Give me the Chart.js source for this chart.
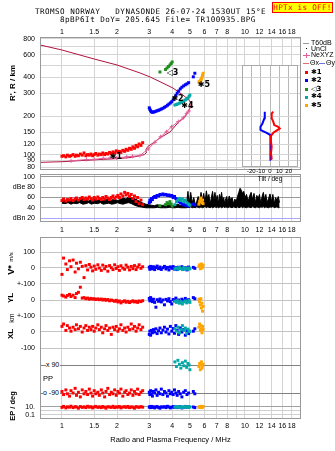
<!DOCTYPE html>
<html><head><meta charset="utf-8">
<script src="https://cdn.jsdelivr.net/npm/chart.js@4.4.1/dist/chart.umd.min.js"></script>
<style>
html,body{margin:0;padding:0;background:#fff;}
body{width:335px;height:451px;position:relative;overflow:hidden;font-family:"Liberation Sans",Arial,sans-serif;color:#000;}
canvas{position:absolute;display:block;}
.t{position:absolute;white-space:pre;line-height:1;}
.mono{font-family:"DejaVu Sans Mono","Liberation Mono",monospace;font-size:7.6px;letter-spacing:0.45px;}
.rot{transform:translate(-50%,-50%) rotate(-90deg);}
.lg{position:absolute;font-size:7px;line-height:1;white-space:pre;}
.sw{position:absolute;}
.sym{font-family:"DejaVu Sans",sans-serif;font-weight:bold;}
</style></head><body>
<canvas id="cMain" width="335" height="172" style="left:0;top:0"></canvas>
<canvas id="cAmp" width="335" height="64" style="left:0;top:172px"></canvas>
<canvas id="cLow" width="335" height="215" style="left:0;top:236px"></canvas>
<canvas id="cTilt" width="68" height="124" style="left:236px;top:60px"></canvas>

<div class="t mono" style="left:35px;top:8px">TROMSO NORWAY   DYNASONDE 26-07-24 1530UT 15°E</div>
<div class="t mono" style="left:60px;top:16px">8pBP6It DoY= 205.645 File= TR100935.BPG</div>
<div class="t mono" style="left:272px;top:2px;width:59px;height:9px;background:#ffff00;border:1px solid #ff0000;color:#ff0000;text-align:center;line-height:9px;letter-spacing:0.3px">HPTx is OFF!</div>

<div class="t rot" style="left:13px;top:83px;font-size:8px;font-weight:bold">R', R / km</div>
<div class="t rot" style="left:11px;top:270px;font-size:9px;font-weight:bold">V*</div>
<div class="t rot" style="left:11px;top:257px;font-size:6px;">m/s</div>
<div class="t rot" style="left:11px;top:298px;font-size:8px;font-weight:bold">YL</div>
<div class="t rot" style="left:11px;top:318px;font-size:7px;">km</div>
<div class="t rot" style="left:11px;top:334px;font-size:8px;font-weight:bold">XL</div>
<div class="t rot" style="left:13px;top:406px;font-size:7.5px;font-weight:bold">EP / deg</div>
<div class="t" style="left:43px;top:375px;font-size:7.5px;">PP</div>
<div class="t" style="left:46px;top:361px;font-size:7px;background:#fff;padding-right:1px">x 90</div>
<div class="t" style="left:43px;top:389px;font-size:7px;background:#fff;padding-right:1px">o -90</div>

<div class="sw" style="left:303px;top:43px;width:6px;height:1px;background:#999"></div>
<div class="lg" style="left:311px;top:39px">T60dB</div>
<div class="sw" style="left:306px;top:48px;width:1px;height:1px;background:#000"></div>
<div class="lg" style="left:311px;top:45px">UnCl</div>
<div class="sw" style="left:303px;top:55px;width:7px;height:1px;background:#e0609a"></div>
<div class="sw" style="left:306px;top:53px;width:1px;height:5px;background:#e0609a"></div>
<div class="lg" style="left:311px;top:51px">NeXYZ</div>
<div class="sw" style="left:303px;top:63px;width:6px;height:1px;background:#e07070"></div>
<div class="lg" style="left:310px;top:59px">Θx</div>
<div class="sw" style="left:319px;top:63px;width:6px;height:1px;background:#7070e0"></div>
<div class="lg" style="left:326px;top:59px">Θy</div>
<div class="sw" style="left:305px;top:71px;width:3px;height:3px;background:#ff0000"></div>
<div class="lg sym" style="left:311px;top:69px">✱1</div>
<div class="sw" style="left:305px;top:79px;width:3px;height:3px;background:#0000ff"></div>
<div class="lg sym" style="left:311px;top:77px">✱2</div>
<div class="sw" style="left:305px;top:88px;width:3px;height:3px;background:#1f8f1f"></div>
<div class="lg sym" style="left:311px;top:86px">◁3</div>
<div class="sw" style="left:305px;top:96px;width:3px;height:3px;background:#00a8a8"></div>
<div class="lg sym" style="left:311px;top:93px">✱4</div>
<div class="sw" style="left:305px;top:104px;width:3px;height:3px;background:#ffa500"></div>
<div class="lg sym" style="left:311px;top:102px">✱5</div>

<script>
const FONT = '"Liberation Sans", Arial, sans-serif';
Chart.defaults.font.family = FONT;
Chart.defaults.font.size = 7;
Chart.defaults.color = '#000';

// ---------------- data ----------------
const freqTicks = [1,1.5,2,3,4,5,6,7,8,9,10,12,14,16,18];
const freqTickLabels = ['1','1.5','2','3','4','5','6','7','8','','10','12','14','16','18'];
const rangeTicks = [80,90,100,120,150,200,300,400,500,600,700,800];
const rangeTickLabels = ['80','90','100','120','150','200','300','400','','600','','800'];
const ampTicks = [20,40,60,80,100];
const ampTickLabels = ['dBn 20','40','60','dBe 80','100'];
const tiltTicks = [-20,-10,0,10,20];
const tiltTickLabels = ['-20','-10','0','10','20'];
const lowerTickAxis = ['yEP','yEP','yEP','yPP','yPP','yXL','yXL','yYL','yYL','yV','yV','yV'];
const lowerTickValue = [0.1,1,10,-90,90,-100,0,-100,0,-100,0,100];
const lowerTickLabels = ['0.1','','10.','','','-100','0','+-100','0','+-100','0','100'];

// model profile (plasma frequency MHz vs height km)
const profileFreq = [0.76,1.0,1.5,2.0,2.4,2.67,2.82,2.90,2.88,2.95,3.14,3.43,3.89,4.30,4.70,4.88,5.00,5.07,5.07,4.94,4.58,4.04,3.43,3.03,2.67,2.0,1.5,1.0,0.76];
const profileRange = [87,88,91,93,95,98,100,104,110,116,123,135,150,177,197,215,230,244,253,267,292,331,371,404,434,501,558,656,718];
const nexFreq = [1.12,1.36,1.50,1.68,1.83,1.99,2.26,2.43,2.67,2.96,3.22,3.46,3.73,3.97,4.32,4.60,4.80,4.94];
const nexRange = [89.4,91.5,91.8,93.5,93.8,94.2,96,97,98.4,110.6,124.7,138,151,165,181,194,210,219];

// mode 1 (red)
const x1Freq = [1.00,1.02,1.05,1.07,1.10,1.12,1.15,1.18,1.20,1.23,1.26,1.29,1.32,1.35,1.38,1.41,1.44,1.47,1.50,1.53,1.57,1.60,1.64,1.67,1.71,1.74,1.78,1.82,1.86,1.90,1.94,1.98,2.02,2.06,2.10,2.15,2.20,2.24,2.29,2.34,2.39,2.44,2.49,2.54,2.59,2.64,2.70,2.76];
const x1Range = [97,98,96,99,97,98,100,97,99,98,101,99,103,98,100,99,101,98,100,102,99,101,100,103,100,102,101,104,102,105,103,107,104,106,104,108,106,110,108,112,110,115,112,118,115,121,118,124];
const x1Amp = [54,57,53,56,55,58,54,57,59,55,58,60,56,59,57,61,58,55,60,57,61,58,56,60,57,62,59,56,60,63,58,61,64,60,67,63,70,65,68,62,66,58,63,52,60,48,55,46];
const x1Vstar = [-40,62,25,-10,45,8,50,-25,30,-5,36,10,-60,15,-12,22,5,-18,12,-8,20,0,-15,18,-5,10,-20,15,2,-10,20,-3,8,-15,14,0,-8,18,5,-12,10,-4,15,-10,6,20,-2,8];
const x1YL = [30,25,18,28,35,22,30,15,40,48,80,12,15,8,12,5,10,6,8,3,7,2,6,0,4,-2,3,-5,0,-4,-8,-2,-12,-6,-18,-10,-5,-14,-8,-16,-10,-5,-12,-8,-15,-6,-10,-4];
const x1XL = [35,50,10,40,25,5,30,15,45,20,35,0,25,40,10,30,15,35,5,25,45,15,30,-5,20,40,10,25,-15,30,15,35,5,20,45,10,25,0,30,15,50,20,35,5,25,45,15,30];
const x1PP = [-80,-100,-70,-95,-110,-75,-90,-60,-105,-85,-115,-70,-95,-80,-100,-65,-90,-110,-75,-95,-85,-105,-70,-90,-115,-80,-60,-100,-85,-95,-70,-105,-80,-90,-65,-110,-85,-75,-100,-90,-70,-105,-80,-95,-65,-100,-85,-75];
const x1EP = [8,14,6,11,9,16,7,12,10,5,13,8,11,7,15,9,12,6,10,14,8,11,7,13,9,5,12,10,8,15,7,11,9,13,6,10,12,8,14,7,11,9,5,12,10,8,13,9];

// mode 2 (blue)
const x2Freq = [3.00,3.02,3.05,3.08,3.12,3.16,3.21,3.26,3.31,3.37,3.43,3.49,3.56,3.63,3.70,3.77,3.84,3.91,3.98,4.05,4.12,4.19,4.26,4.34,4.43,4.52,4.62,4.72,4.82,4.92,5.22,5.32];
const x2Range = [232,226,220,216,214,215,216,218,220,222,224,227,230,234,238,243,248,253,259,268,278,290,302,314,326,336,344,351,357,365,405,432];
const x2Amp = [50,55,52,58,56,60,62,60,64,63,66,65,67,65,66,64,65,63,64,60,62,58,56,52,50,48,46,45,44,43,47,45];
const x2Vstar = [5,-8,10,0,-5,8,-10,3,12,-4,6,-9,2,10,-6,4,-12,7,-2,9,-7,3,-10,5,-3,8,-6,2,-12,6,4,-2];
const x2YL = [10,-5,15,0,-10,5,-15,-45,2,-8,6,-12,0,-30,4,-6,8,-10,-25,3,-5,12,-8,0,-15,5,-4,10,-6,2,15,8];
const x2XL = [-15,5,-20,10,-5,15,0,20,-10,8,25,-5,12,30,0,18,-12,35,5,22,-8,40,10,-15,25,0,15,-20,10,-10,5,20];
const x2PP = [-85,-100,-75,-95,-110,-80,-90,-70,-105,-85,-95,-65,-100,-80,-90,-110,-75,-95,-85,-100,-70,-90,-105,-80,-95,-115,-85,-75,-100,-90,-80,-95];
const x2EP = [9,12,7,14,8,11,6,10,13,8,5,11,9,12,7,15,10,6,9,13,8,11,7,10,12,6,9,14,8,11,10,7];

// mode 3 (green)
const x3Freq = [3.43,3.68,3.75,3.82,3.89,3.95,4.00];
const x3Range = [442,462,475,488,501,515,529];
const x3Amp = [44,46,50,48,52,47,43];

// mode 4 (cyan)
const x4Freq = [4.14,4.22,4.30,4.38,4.46,4.55,4.63,4.72,4.80,4.88,4.95,5.00];
const x4Range = [244,246,249,252,255,259,263,267,272,277,285,292];
const x4Amp = [46,52,55,58,54,57,52,55,50,48,46,45];
const x4Vstar = [-5,0,-8,3,-4,-10,2,-6,-3,-8,0,-5];
const x4YL = [-8,-15,-5,-20,-10,-25,-12,-6,-18,-10,-3,-15];
const x4XL = [20,5,30,-5,15,40,10,25,-10,18,8,2];
const x4PP = [110,80,120,95,70,105,85,115,75,100,90,60];
const x4EP = [10,8,12,9,11,7,10,13,9,8,11,10];

// mode 5 (orange)
const x5Freq = [5.60,5.65,5.70,5.74,5.78,5.82,5.86,5.90];
const x5Range = [368,372,378,383,390,400,415,432];
const x5Amp = [47,52,56,59,54,50,55,48];
const x5Vstar = [10,20,-5,15,25,0,8,18];
const x5YL = [5,-10,-30,8,-50,-20,-70,-40];
const x5XL = [30,50,10,40,20,-5,35,15];
const x5PP = [80,100,60,90,110,70,85,95];
const x5EP = [8,12,10,15,7,11,9,13];

// total received amplitude (black trace): low / high envelope
const ampFreq = [1.00,1.04,1.08,1.12,1.16,1.20,1.25,1.30,1.35,1.40,1.45,1.50,1.56,1.62,1.68,1.74,1.80,1.87,1.94,2.01,2.08,2.16,2.24,2.32,2.40,2.49,2.58,2.67,2.77,2.87,2.97,
 3.08,3.20,3.32,3.45,3.58,3.72,3.86,4.00,4.15,4.30,4.46,4.62,4.78,4.88,4.95,5.05,5.15,5.25,5.35,5.45,
 5.55,5.65,5.75,5.85,5.95,6.05,6.15,6.25,6.35,6.45,6.55,6.65,6.75,6.85,6.95,7.05,7.15,7.25,7.35,7.45,7.55,7.65,7.75,7.85,7.95,8.05,8.20,8.35,8.50,8.65,8.80,8.95,9.10,9.25,9.40,9.55,9.70,9.85,10.0,10.2,10.4,10.6,10.8,11.0,11.2,11.4,11.6,11.8,12.0,12.2,12.4,12.6,12.8,13.0,13.2,13.45,13.7,13.95,14.2,14.45,14.7,14.95,15.2,15.45];
const ampHigh = [56,54,57,55,53,56,54,57,55,53,56,58,55,57,54,56,58,55,57,54,56,59,57,62,60,58,55,52,49,47,46,
 45,44,46,44,45,43,46,44,45,47,44,46,45,72,48,70,50,60,46,52,
 62,48,70,55,68,50,73,58,66,47,60,72,52,70,55,64,48,66,58,70,52,60,47,58,62,50,63,55,60,48,57,52,62,70,78,74,68,72,60,66,52,63,70,56,68,50,64,58,66,48,62,70,55,66,50,58,67,52,66,48,60,54,62,50];
const ampLow = [49,48,50,47,49,48,50,47,48,50,47,49,48,50,47,48,49,47,48,50,48,47,49,50,48,45,43,42,41,40,40,
 40,40,41,40,40,40,41,40,40,41,40,40,40,41,40,42,40,41,40,42,
 41,40,42,40,41,43,40,42,41,40,42,40,41,43,40,42,40,41,42,40,41,43,40,42,41,40,42,41,40,42,41,40,42,40,41,43,40,42,41,40,42,41,40,43,41,40,42,41,40,42,41,43,40,42,41,40,42,41,43,40,41,42,40,41];

// tilt inset (deg vs height km)
const thetaXRange = [91,93.5,102,115,126,140,148,154,160,165,170,181,192,210,216];
const thetaX = [1,1.8,1,1.8,1,1,3.5,7,10.5,8.8,4.6,3.5,1.8,1.8,3.5];
const thetaYRange = [91,93.5,102,115,130,142,148,153,156,165,175,192,216];
const thetaY = [1,0.7,0.7,0.3,0.7,0,-3.6,-8.1,-10.2,-10.2,-8.1,-6,-5.6];

// mode labels in ionogram
const modeLabelText = ['✱1','◁3','✱2','✱4','✱5'];
const modeLabelFreq = [1.97,4.02,4.28,4.85,5.97];
const modeLabelRange = [96,438,272,240,350];

// ---------------- styles / helpers ----------------
const COL = {x1:'#ff0000', x2:'#0000ff', x3:'#1f8f1f', x4:'#00a8a8', x5:'#ffa500'};
const GRID = '#d4d4d4';
const ampGridColors = ['#a8a8ff','#b4b4b4','#9a9a9a','#b4b4b4','#9a9a9a'];
const lowerGridColors = ['#cfcfcf','#cfcfcf','#a0a0a0','#808080','#808080','#c4c4c4','#c4c4c4','#c4c4c4','#c4c4c4','#c4c4c4','#c4c4c4','#c4c4c4'];
const F_MIN = 0.7585, F_MAX = 20.23;

const pts = (xs, ys) => xs.map((x, i) => ({x, y: ys[i]}));
const dotSet = (xs, ys, c, yId) => ({data: pts(xs, ys), showLine:false, pointStyle:'rect', pointRadius:2.1, pointHoverRadius:0,
  pointBackgroundColor:c, pointBorderColor:c, pointBorderWidth:0, backgroundColor:c, borderColor:c, yAxisID: yId || 'y'});
const noPad = s => { s.paddingTop = 0; s.paddingBottom = 0; s.paddingLeft = 0; s.paddingRight = 0; };

const framePlugin = { id:'frame', afterDraw(chart, args, opts){
  const a = chart.chartArea, c = chart.ctx; c.save(); c.strokeStyle = opts.color || '#999'; c.lineWidth = 1;
  c.strokeRect(Math.round(a.left)+0.5, Math.round(a.top)+0.5, Math.round(a.right-a.left)-1, Math.round(a.bottom-a.top)-1); c.restore(); } };
const whiteBg = { id:'whiteBg', beforeDraw(chart){ const a = chart.chartArea, c = chart.ctx; c.save(); c.fillStyle='#fff'; c.fillRect(a.left, a.top, a.right-a.left, a.bottom-a.top); c.restore(); } };
const modeLabelPlugin = { id:'modeLabels', afterDatasetsDraw(chart){
  const {ctx, scales:{x, y}} = chart; ctx.save(); ctx.font = 'bold 8px "DejaVu Sans", sans-serif'; ctx.fillStyle = '#000';
  ctx.textAlign = 'center'; ctx.textBaseline = 'middle';
  modeLabelText.forEach((t, i) => ctx.fillText(t, x.getPixelForValue(modeLabelFreq[i]), y.getPixelForValue(modeLabelRange[i])));
  ctx.restore(); } };

function freqAxis(position, showLabels, height, pad, extra) {
  return Object.assign({
    type:'logarithmic', position, min:F_MIN, max:F_MAX,
    afterBuildTicks: s => { s.ticks = freqTicks.map(v => ({value:v})); },
    afterFit: s => { s.height = height; noPad(s); },
    ticks:{ display:showLabels, autoSkip:false, maxRotation:0, minRotation:0, padding:pad, font:{size:7}, color:'#000',
      callback:(v, i) => freqTickLabels[i] },
    grid:{ color:GRID, lineWidth:1, drawTicks:false },
    border:{ display:false }
  }, extra || {});
}
const base = { responsive:false, animation:false, devicePixelRatio:1, events:[] };
const mkLayout = (t, r, b, l) => ({autoPadding:false, padding:{top:t, right:r, bottom:b, left:l}});

// ---------------- main ionogram ----------------
new Chart(document.getElementById('cMain'), {
  type:'scatter',
  data:{ datasets:[
    dotSet(x5Freq, x5Range, COL.x5), dotSet(x4Freq, x4Range, COL.x4), dotSet(x3Freq, x3Range, COL.x3),
    dotSet(x2Freq, x2Range, COL.x2), dotSet(x1Freq, x1Range, COL.x1),
    {data:pts(nexFreq, nexRange), showLine:true, borderColor:'#e0609a', borderWidth:1, pointStyle:'cross', pointRadius:2, pointHoverRadius:0,
      pointBorderColor:'#e0609a', pointBorderWidth:1},
    {data:pts(profileFreq, profileRange), showLine:true, borderColor:'#b2123e', borderWidth:1, pointRadius:0, pointHoverRadius:0}
  ]},
  options: Object.assign({}, base, {
    layout: mkLayout(24, 34, 2, 0),
    plugins:{legend:{display:false}, tooltip:{enabled:false}, frame:{color:'#999'}},
    scales:{
      x: freqAxis('top', true, 13, 1),
      y: { type:'logarithmic', position:'left', min:75.8, max:829,
        afterBuildTicks: s => { s.ticks = rangeTicks.map(v => ({value:v})); },
        afterFit: s => { s.width = 40; noPad(s); },
        ticks:{ autoSkip:false, padding:5, font:{size:7}, callback:(v, i) => rangeTickLabels[i] },
        grid:{ color:GRID, drawTicks:false }, border:{display:false} }
    }
  }),
  plugins:[framePlugin, modeLabelPlugin]
});

// ---------------- amplitude panel ----------------
new Chart(document.getElementById('cAmp'), {
  type:'scatter',
  data:{ datasets:[
    dotSet(x5Freq, x5Amp, COL.x5), dotSet(x4Freq, x4Amp, COL.x4), dotSet(x3Freq, x3Amp, COL.x3),
    dotSet(x2Freq, x2Amp, COL.x2), dotSet(x1Freq, x1Amp, COL.x1),
    {data:pts(ampFreq, ampHigh), showLine:true, borderColor:'#000', borderWidth:1, pointRadius:0, pointHoverRadius:0, fill:'+1', backgroundColor:'#000'},
    {data:pts(ampFreq, ampLow), showLine:true, borderColor:'#000', borderWidth:1, pointRadius:0, pointHoverRadius:0}
  ]},
  options: Object.assign({}, base, {
    layout: mkLayout(2, 34, 0, 0),
    plugins:{legend:{display:false}, tooltip:{enabled:false}, frame:{color:'#999'}},
    scales:{
      x: freqAxis('bottom', true, 14, 4),
      y: { type:'linear', position:'left', min:12.2, max:105.85,
        afterBuildTicks: s => { s.ticks = ampTicks.map(v => ({value:v})); },
        afterFit: s => { s.width = 40; noPad(s); },
        ticks:{ autoSkip:false, padding:5, font:{size:7}, callback:(v, i) => ampTickLabels[i] },
        grid:{ drawTicks:false, color: c => ampGridColors[c.index] }, border:{display:false} }
    }
  }),
  plugins:[framePlugin]
});

// ---------------- lower panel (V*, YL, XL, PP, EP) ----------------
const lowerAxes = {
  yV:{type:'linear', min:-943.75, max:193.75},
  yYL:{type:'linear', min:-743.75, max:393.75},
  yXL:{type:'linear', min:-543.75, max:593.75},
  yPP:{type:'linear', min:-257.1, max:912.9},
  yEP:{type:'logarithmic', min:0.01, max:3.16e43}
};
function axisFrac(id, v) {
  const a = lowerAxes[id];
  if (a.type === 'logarithmic') return (Math.log10(v) - Math.log10(a.min)) / (Math.log10(a.max) - Math.log10(a.min));
  return (v - a.min) / (a.max - a.min);
}
const lowScales = {
  x: freqAxis('bottom', true, 32, 3, { title:{ display:true, text:'Radio and Plasma Frequency / MHz', font:{size:7.5}, color:'#000', padding:{top:2, bottom:7} } }),
  yLab: { type:'linear', position:'left', min:0, max:1,
    afterBuildTicks: s => { s.ticks = lowerTickAxis.map((a, i) => ({value: axisFrac(a, lowerTickValue[i])})); },
    afterFit: s => { s.width = 40; noPad(s); },
    ticks:{ autoSkip:false, padding:5, font:{size:7}, callback:(v, i) => lowerTickLabels[i] },
    grid:{ drawTicks:false, color: c => lowerGridColors[c.index] }, border:{display:false} }
};
Object.keys(lowerAxes).forEach(k => { lowScales[k] = Object.assign({display:false}, lowerAxes[k]); });

const lowSets = [];
[[x5Freq, x5Vstar, x5YL, x5XL, x5PP, x5EP, COL.x5],
 [x4Freq, x4Vstar, x4YL, x4XL, x4PP, x4EP, COL.x4],
 [x2Freq, x2Vstar, x2YL, x2XL, x2PP, x2EP, COL.x2],
 [x1Freq, x1Vstar, x1YL, x1XL, x1PP, x1EP, COL.x1]].forEach(m => {
  lowSets.push(dotSet(m[0], m[1], m[6], 'yV'));
  lowSets.push(dotSet(m[0], m[2], m[6], 'yYL'));
  lowSets.push(dotSet(m[0], m[3], m[6], 'yXL'));
  lowSets.push(dotSet(m[0], m[4], m[6], 'yPP'));
  lowSets.push(dotSet(m[0], m[5], m[6], 'yEP'));
});
new Chart(document.getElementById('cLow'), {
  type:'scatter',
  data:{ datasets: lowSets },
  options: Object.assign({}, base, {
    layout: mkLayout(1, 34, 0, 0),
    plugins:{legend:{display:false}, tooltip:{enabled:false}, frame:{color:'#999'}},
    scales: lowScales
  }),
  plugins:[framePlugin]
});

// ---------------- tilt inset ----------------
new Chart(document.getElementById('cTilt'), {
  type:'scatter',
  data:{ datasets:[
    {data:pts(thetaX, thetaXRange), showLine:true, borderColor:'#ff0000', borderWidth:2, pointRadius:0, pointHoverRadius:0},
    {data:pts(thetaY, thetaYRange), showLine:true, borderColor:'#0000ff', borderWidth:2, pointRadius:0, pointHoverRadius:0}
  ]},
  options: Object.assign({}, base, {
    layout: mkLayout(5, 6, 0, 6),
    plugins:{legend:{display:false}, tooltip:{enabled:false}, frame:{color:'#aaa'}},
    scales:{
      x:{ type:'linear', min:-30, max:30,
        afterBuildTicks: s => { s.ticks = tiltTicks.map(v => ({value:v})); },
        afterFit: s => { s.height = 17; noPad(s); },
        ticks:{ autoSkip:false, maxRotation:0, padding:1, font:{size:6}, callback:(v, i) => tiltTickLabels[i] },
        grid:{ drawTicks:false, color:'#b8b8b8' }, border:{display:false},
        title:{ display:true, text:'Tilt / deg', font:{size:6.5}, padding:{top:0, bottom:1} } },
      y:{ type:'logarithmic', min:80, max:501,
        afterBuildTicks: s => { s.ticks = rangeTicks.map(v => ({value:v})); },
        afterFit: s => { s.width = 0; noPad(s); },
        ticks:{ display:false }, grid:{ drawTicks:false, color:GRID }, border:{display:false} }
    }
  }),
  plugins:[whiteBg, framePlugin]
});
</script>
</body></html>
